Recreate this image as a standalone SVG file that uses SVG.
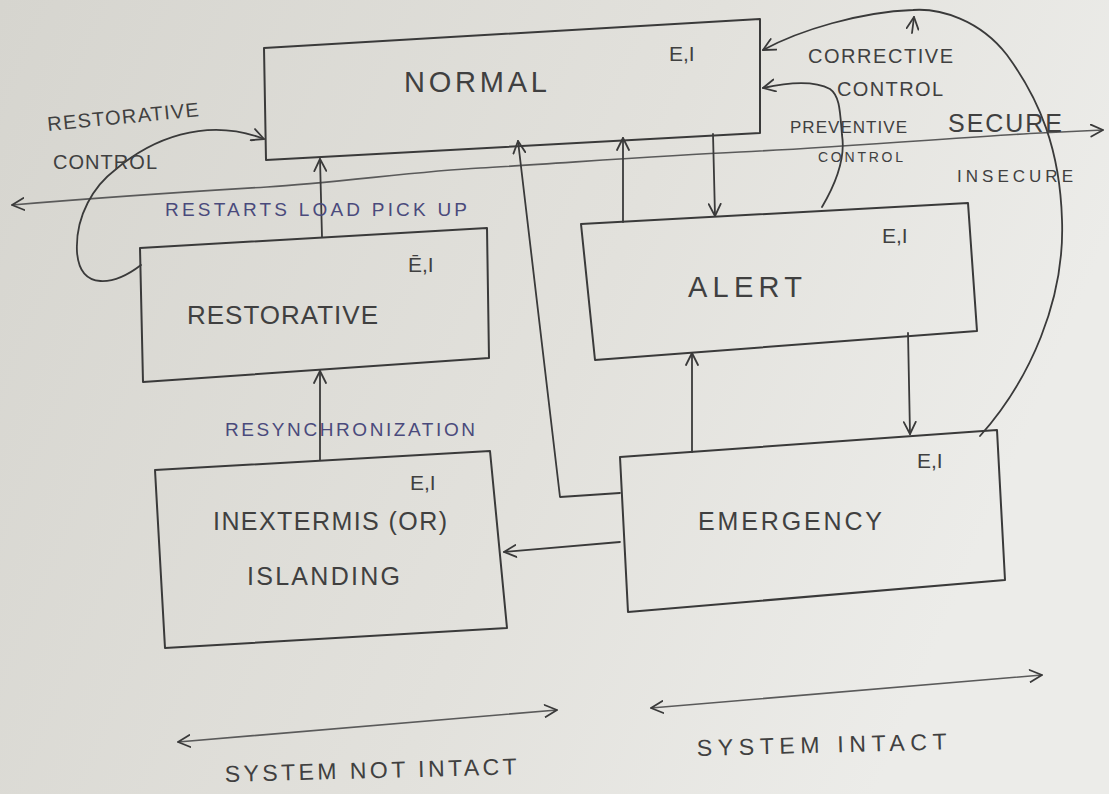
<svg xmlns="http://www.w3.org/2000/svg" width="1109" height="794" viewBox="0 0 1109 794">
<defs>
<linearGradient id="paper" x1="0" y1="0" x2="1" y2="0.3">
<stop offset="0" stop-color="#d6d5cf"/>
<stop offset="0.6" stop-color="#e2e1dc"/>
<stop offset="1" stop-color="#ecece9"/>
</linearGradient>
<marker id="arr" viewBox="0 0 14 14" refX="13" refY="7" markerWidth="14" markerHeight="14" markerUnits="userSpaceOnUse" orient="auto-start-reverse">
<path d="M1,1 L13,7 L1,13" fill="none" stroke="#3a3a3a" stroke-width="1.8" stroke-linecap="round" stroke-linejoin="round"/>
</marker>
<style>
.box{fill:none;stroke:#3a3a3a;stroke-width:2;stroke-linejoin:round}
.ln{fill:none;stroke:#3a3a3a;stroke-width:1.8;stroke-linecap:round;stroke-linejoin:round}
.lt{fill:none;stroke:#5a5a5a;stroke-width:1.6;stroke-linecap:round}
.t{font-family:"Liberation Sans","DejaVu Sans",sans-serif;fill:#404040}
.b{font-family:"Liberation Sans","DejaVu Sans",sans-serif;fill:#4a4a7c}
.big{font-size:29px}
.ei{font-size:21px}
</style>
</defs>
<rect x="0" y="0" width="1109" height="794" fill="url(#paper)"/>

<g id="connectors">
<!-- secure / insecure boundary -->
<path class="lt" d="M12,205 C 120,196 200,191 267,187 S 420,171 480,168 S 650,156 740,152 S 980,136 1040,133 L 1103,130" marker-start="url(#arr)" marker-end="url(#arr)"/>
<!-- restorative -> normal (restarts load pick up) -->
<path class="ln" d="M322,237 L320,159" marker-end="url(#arr)"/>
<!-- inextermis -> restorative (resynchronization) -->
<path class="ln" d="M320,460 L320,371" marker-end="url(#arr)"/>
<!-- restorative control loop -->
<path class="ln" d="M141,265 C 115,285 80,292 77,252 C 75,215 95,185 115,170 C 150,140 205,116 264,139" marker-end="url(#arr)"/>
<!-- emergency -> normal -->
<path class="ln" d="M620,493 L560,497 L518,141" marker-end="url(#arr)"/>
<!-- alert -> normal -->
<path class="ln" d="M623,222 L623,138" marker-end="url(#arr)"/>
<!-- normal -> alert -->
<path class="ln" d="M713,134 L715,216" marker-end="url(#arr)"/>
<!-- emergency -> alert -->
<path class="ln" d="M692,452 L692,353" marker-end="url(#arr)"/>
<!-- alert -> emergency -->
<path class="ln" d="M908,333 L910,434" marker-end="url(#arr)"/>
<!-- emergency -> inextermis -->
<path class="ln" d="M620,542 L504,552" marker-end="url(#arr)"/>
<!-- corrective control loop -->
<path class="ln" d="M980,436 C 1030,380 1065,300 1062,220 C 1060,150 1040,100 1007,55 C 980,20 940,8 913,10 C 860,12 800,30 763,50" marker-end="url(#arr)"/>
<path class="ln" d="M912,33 L914,17" marker-end="url(#arr)"/>
<!-- preventive control -->
<path class="ln" d="M822,207 C 835,185 846,160 842,135 C 840,112 840,96 830,89 C 815,81 790,82 763,88" marker-end="url(#arr)"/>
<!-- system extent arrows -->
<path class="lt" d="M178,742 L557,710" marker-start="url(#arr)" marker-end="url(#arr)"/>
<path class="lt" d="M651,708 L1042,675" marker-start="url(#arr)" marker-end="url(#arr)"/>
</g>

<g id="normal">
<polygon class="box" points="264,48 760,19 760,133 266,160"/>
<text class="t big" x="404" y="92" textLength="143">NORMAL</text>
<text class="t ei" x="669" y="61">E,I</text>
</g>

<g id="alert">
<polygon class="box" points="581,224 968,203 977,331 595,360"/>
<text class="t big" x="688" y="297" textLength="114">ALERT</text>
<text class="t ei" x="882" y="243">E,I</text>
</g>

<g id="restorative">
<polygon class="box" points="140,248 487,228 489,358 143,382"/>
<text class="t" x="187" y="324" font-size="26" textLength="191">RESTORATIVE</text>
<text class="t ei" x="408" y="272">Ē,I</text>
</g>

<g id="inextermis">
<polygon class="box" points="155,470 490,451 507,628 165,648"/>
<text class="t" x="213" y="530" font-size="25" textLength="234">INEXTERMIS (OR)</text>
<text class="t" x="247" y="585" font-size="25" textLength="153">ISLANDING</text>
<text class="t ei" x="410" y="490">E,I</text>
</g>

<g id="emergency">
<polygon class="box" points="620,457 997,430 1005,580 628,612"/>
<text class="t" x="698" y="530" font-size="25" textLength="184">EMERGENCY</text>
<text class="t ei" x="917" y="468">E,I</text>
</g>

<g id="labels">
<text class="t" x="48" y="131" font-size="20" textLength="152" transform="rotate(-5.6 48 131)">RESTORATIVE</text>
<text class="t" x="53" y="169" font-size="20" textLength="104">CONTROL</text>
<text class="b" x="165" y="216" font-size="19" textLength="302">RESTARTS LOAD PICK UP</text>
<text class="b" x="225" y="436" font-size="19" textLength="250">RESYNCHRONIZATION</text>
<text class="t" x="808" y="63" font-size="20" textLength="145">CORRECTIVE</text>
<text class="t" x="837" y="96" font-size="20" textLength="106">CONTROL</text>
<text class="t" x="790" y="133" font-size="17" textLength="117">PREVENTIVE</text>
<text class="t" x="818" y="162" font-size="14" textLength="85">CONTROL</text>
<text class="t" x="948" y="132" font-size="25" textLength="114">SECURE</text>
<text class="t" x="957" y="182" font-size="17" textLength="116">INSECURE</text>
<text class="t" x="225" y="782" font-size="23" textLength="292" transform="rotate(-1.5 225 782)">SYSTEM NOT INTACT</text>
<text class="t" x="697" y="756" font-size="23" textLength="250" transform="rotate(-1.5 697 756)">SYSTEM INTACT</text>
</g>
</svg>
